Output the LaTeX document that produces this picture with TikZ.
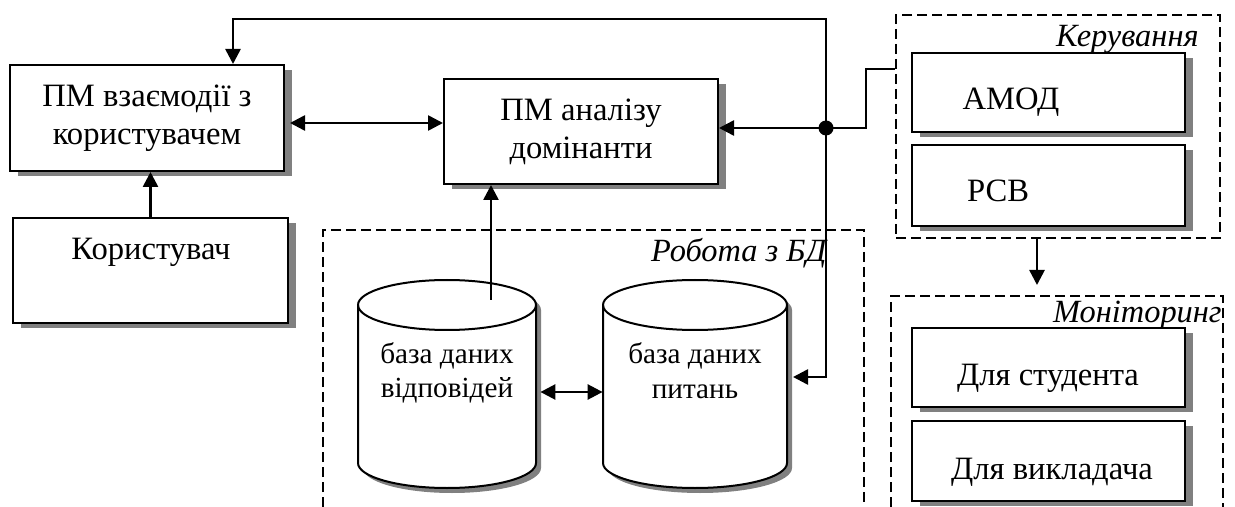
\documentclass[tikz,border=0pt]{standalone}
\usepackage{fontspec}
\setmainfont{Liberation Serif}
\usetikzlibrary{arrows.meta,shadows,calc}
\newcommand{\dbcyl}[5]{%
  \fill[black!50] (#1-#4+5,#2+#5+5) -- (#1-#4+5,#3-#5+5)
     arc[start angle=180,end angle=360,x radius=#4*0.5pt,y radius=#5*0.5pt]
     -- (#1+#4+5,#2+#5+5)
     arc[start angle=0,end angle=180,x radius=#4*0.5pt,y radius=#5*0.5pt] -- cycle;
  \draw[line width=1pt,fill=white] (#1-#4,#2+#5) -- (#1-#4,#3-#5)
     arc[start angle=180,end angle=360,x radius=#4*0.5pt,y radius=#5*0.5pt]
     -- (#1+#4,#2+#5)
     arc[start angle=0,end angle=180,x radius=#4*0.5pt,y radius=#5*0.5pt] -- cycle;
  \draw[line width=1pt] (#1-#4,#2+#5)
     arc[start angle=180,end angle=360,x radius=#4*0.5pt,y radius=#5*0.5pt];
}
\begin{document}
\begin{tikzpicture}[x=0.5pt,y=-0.5pt,
  font=\fontsize{16.3}{19}\selectfont,
  box/.style={draw, line width=1pt, fill=white, inner sep=0pt, align=center,
     drop shadow={shadow xshift=4pt, shadow yshift=-2.5pt, fill=black!50, opacity=1}},
  txt/.style={inner sep=0pt, anchor=base},
  ctxt/.style={inner sep=0pt, anchor=base, font=\fontsize{14.6}{17}\selectfont},
  lbl/.style={inner sep=0pt, anchor=base east, font=\fontsize{16.2}{19}\selectfont\itshape},
  dbox/.style={draw, line width=1pt, dash pattern=on 5pt off 2.5pt},
  conn/.style={line width=1.3pt},
  arr/.style={-{Triangle[length=7.5pt,width=7.5pt]}},
  darr/.style={{Triangle[length=7.5pt,width=7.5pt]}-{Triangle[length=7.5pt,width=7.5pt]}},
  area/.style={inner sep=0pt}
]
\useasboundingbox (0,0) rectangle (1235,507);

% dashed groups
\draw[dbox] (323,507) -- (323,230) -- (864,230) -- (864,507);
\draw[dbox] (891,507) -- (891,296) -- (1223,296) -- (1223,507);
\node[dbox, inner sep=0pt, minimum width=162pt, minimum height=111.5pt] (ker) at (1058,126.5) {};

% boxes
\node[box, minimum width=137pt, minimum height=53pt] (b1) at (147,118) {ПМ взаємодії з\\користувачем};
\node[box, minimum width=137.5pt, minimum height=52.5pt] (user) at (150.5,270.5) {};
\node[box, minimum width=137pt, minimum height=52.5pt] (b2) at (581,131.5) {ПМ аналізу\\домінанти};
\node[box, minimum width=136.5pt, minimum height=39.5pt] (amod) at (1048.5,92.5) {};
\node[box, minimum width=136.5pt, minimum height=40.5pt] (rsv) at (1048.5,185.5) {};
\node[box, minimum width=136.5pt, minimum height=39.5pt] (stud) at (1048.5,367.5) {};
\node[box, minimum width=136.5pt, minimum height=40pt] (vykl) at (1048.5,461) {};

% cylinders
\dbcyl{447}{280}{488}{89}{25}
\dbcyl{695}{280}{488}{92}{25}
\node[area, minimum width=89pt, minimum height=104pt] (c1) at (447,384) {};
\node[area, minimum width=92pt, minimum height=104pt] (c2) at (695,384) {};

% texts
\node[txt] (tuser) at (151,260) {Користувач};
\node[txt] (tamod) at (1011,110) {АМОД};
\node[txt] (trsv) at (998,202) {РСВ};
\node[txt] (tstud) at (1048,386) {Для студента};
\node[txt] (tvykl) at (1052,479) {Для викладача};
\node[ctxt] (tc1a) at (447,364) {база даних};
\node[ctxt] (tc1b) at (447,397) {відповідей};
\node[ctxt] (tc2a) at (695,364) {база даних};
\node[ctxt] (tc2b) at (695,398) {питань};

% group labels
\node[lbl] (lker) at (1199,47) {Керування};
\node[lbl] (lbd) at (827,262) {Робота з БД};
\node[lbl] (lmon) at (1222,322) {Моніторинг};

% connectors
\coordinate (dot) at (826,128);
\coordinate (t1) at (233,19);
\coordinate (k1) at (866,69);
\coordinate (c2in) at (793,377);
\coordinate (c1o) at (491,300);
\coordinate (y1) at (0,123);
\coordinate (y2) at (0,392);
\coordinate (m2) at (1037,285);

\draw[conn,arr] (user.north) -- (user.north |- b1.south);
\draw[conn,darr] ([xshift=2.5pt]b1.east |- y1) -- (b2.west |- y1);
\draw[conn,arr] (dot) |- (t1) -- (t1 |- b1.north);
\draw[conn,arr] (dot) -- (dot -| b2.east);
\draw[conn] (dot) -| (k1) -- (k1 -| ker.west);
\draw[conn,arr] (dot) |- (c2in);
\draw[conn,arr] (c1o) -- (c1o |- b2.south);
\draw[conn,darr] ([xshift=2pt]c1.east |- y2) -- (c2.west |- y2);
\draw[conn,arr] (ker.south -| m2) -- (m2);
\fill (dot) circle[radius=3.75pt];
\end{tikzpicture}
\end{document}
